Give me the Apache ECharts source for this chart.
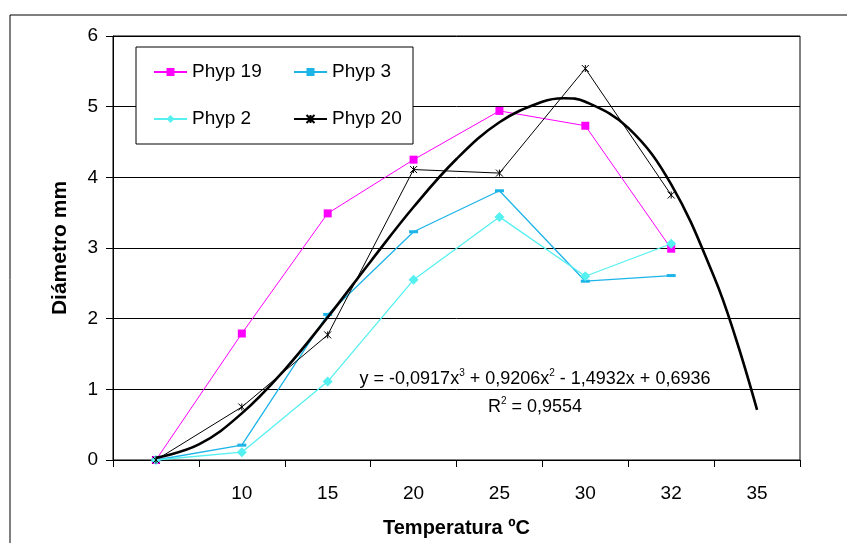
<!DOCTYPE html>
<html>
<head>
<meta charset="utf-8">
<script src="https://cdn.jsdelivr.net/npm/echarts@6/dist/echarts.min.js"></script>
<style>
html,body{margin:0;padding:0;background:#fff;}
#c{width:847px;height:543px;}
</style>
</head>
<body>
<div id="c"></div>
<script>
const categories = ['', '10', '15', '20', '25', '30', '32', '35'];
const phyp19 = [0, 1.79, 3.49, 4.25, 4.94, 4.73, 2.99, null];
const phyp3 = [0, 0.21, 2.06, 3.23, 3.81, 2.53, 2.61, null];
const phyp2 = [0, 0.11, 1.11, 2.55, 3.44, 2.60, 3.06, null];
const phyp20 = [0, 0.75, 1.77, 4.11, 4.06, 5.54, 3.75, null];
const trendX = [1, 1.5, 2, 2.5, 3, 3.5, 4, 4.5, 5, 5.5, 5.75, 6, 6.5, 7, 7.5, 7.75, 8];
const trendY = [0.03, 0.22, 0.66, 1.28, 2.02, 2.81, 3.58, 4.26, 4.78, 5.07, 5.12, 5.07, 4.70, 3.90, 2.59, 1.73, 0.71];
const yTicks = [0, 1, 2, 3, 4, 5, 6];
const eqText = ['y = -0,0917x', '3', ' + 0,9206x', '2', ' - 1,4932x + 0,6936'];
const r2Text = ['R', '2', ' = 0,9554'];

const FONT = '"Liberation Sans", Arial, sans-serif';
const chart = echarts.init(document.getElementById('c'), null, {renderer: 'canvas'});
const starPath = 'path://M0,0L10,10M10,0L0,10M5,0L5,10';

function sup(parts) {
  return parts.map((p, i) => i % 2 === 1 ? '{s|' + p + '}' : '{a|' + p + '}').join('');
}
const richText = {
  a: {fontSize: 18, fontFamily: FONT, color: '#000'},
  s: {fontSize: 10, fontFamily: FONT, color: '#000', padding: [0, 0, 11, 0]}
};

const trendData = trendX.map((x, i) => [x, trendY[i]]);

chart.setOption({
  backgroundColor: '#fff',
  animation: false,
  textStyle: {fontFamily: FONT},
  grid: {left: 113, right: 47, top: 36, bottom: 83, show: true, borderColor: '#000', borderWidth: 1, backgroundColor: 'transparent'},
  legend: [
    {
      data: ['Phyp 19', 'Phyp 2'], orient: 'vertical', left: 153, top: 62, padding: 0,
      itemWidth: 33, itemHeight: 10, itemGap: 27,
      textStyle: {fontSize: 19, fontFamily: FONT, color: '#000', lineHeight: 20}
    },
    {
      data: ['Phyp 3', 'Phyp 20'], orient: 'vertical', left: 293, top: 62, padding: 0,
      itemWidth: 33, itemHeight: 10, itemGap: 27,
      textStyle: {fontSize: 19, fontFamily: FONT, color: '#000', lineHeight: 20}
    }
  ],
  xAxis: [
    {
      type: 'category', data: categories, boundaryGap: true,
      axisLine: {lineStyle: {color: '#000', width: 1}},
      axisTick: {show: true, length: 7, inside: false, lineStyle: {color: '#000'}, alignWithLabel: false},
      axisLabel: {fontSize: 19, color: '#000', margin: 24, fontFamily: FONT, interval: 0},
      splitLine: {show: false},
      name: 'Temperatura ºC', nameLocation: 'middle', nameGap: 58,
      nameTextStyle: {fontSize: 20, fontWeight: 'bold', color: '#000', fontFamily: FONT}
    },
    {
      type: 'value', min: 0.5, max: 8.5, show: false
    }
  ],
  yAxis: {
    type: 'value', min: yTicks[0], max: yTicks[yTicks.length - 1], interval: 1,
    axisLine: {show: true, lineStyle: {color: '#000', width: 1}},
    axisTick: {show: true, length: 7, lineStyle: {color: '#000'}},
    axisLabel: {fontSize: 19, color: '#000', margin: 15, fontFamily: FONT},
    splitLine: {show: true, lineStyle: {color: '#000', width: 1}},
    name: 'Diámetro mm', nameLocation: 'middle', nameGap: 42, nameRotate: 90,
    nameTextStyle: {fontSize: 21, fontWeight: 'bold', color: '#000', fontFamily: FONT}
  },
  series: [
    {
      name: 'Phyp 19', type: 'line', data: phyp19, color: '#FF00FF',
      symbol: 'rect', symbolSize: 8, showAllSymbol: true,
      lineStyle: {width: 1, color: '#FF00FF'}, itemStyle: {color: '#FF00FF'}, z: 3
    },
    {
      name: 'Phyp 3', type: 'line', data: phyp3, color: '#1DB4E8',
      symbol: 'rect', symbolSize: [9, 3], showAllSymbol: true,
      lineStyle: {width: 1.3, color: '#1DB4E8'}, itemStyle: {color: '#1DB4E8'}, z: 3
    },
    {
      name: 'Phyp 2', type: 'line', data: phyp2, color: '#55F0F0',
      symbol: 'diamond', symbolSize: 10, showAllSymbol: true,
      lineStyle: {width: 1.3, color: '#55F0F0'}, itemStyle: {color: '#55F0F0'}, z: 3
    },
    {
      name: 'Phyp 20', type: 'line', data: phyp20, color: '#000',
      symbol: starPath, symbolSize: 7, showAllSymbol: true,
      lineStyle: {width: 1, color: '#000'}, itemStyle: {color: '#000', borderColor: '#000', borderWidth: 1}, z: 3
    },
    {
      name: 'Poly. (Phyp 20)', type: 'line', xAxisIndex: 1, data: trendData,
      smooth: 0.4, symbol: 'none', lineStyle: {width: 2.6, color: '#000'}, z: 4, silent: true
    }
  ],
  graphic: [
    {type: 'rect', shape: {x: 10, y: 15, width: 900, height: 600}, style: {fill: 'none', stroke: '#000', lineWidth: 1}, silent: true, z: -1},
    {type: 'rect', shape: {x: 136, y: 47, width: 277, height: 97}, style: {fill: '#fff', stroke: '#000', lineWidth: 1}, z: 1},
    {type: 'text', x: 535, y: 379, style: {text: sup(eqText), rich: richText, align: 'center', verticalAlign: 'middle'}, z: 10},
    {type: 'text', x: 535, y: 407, style: {text: sup(r2Text), rich: richText, align: 'center', verticalAlign: 'middle'}, z: 10}
  ]
});
</script>
</body>
</html>
